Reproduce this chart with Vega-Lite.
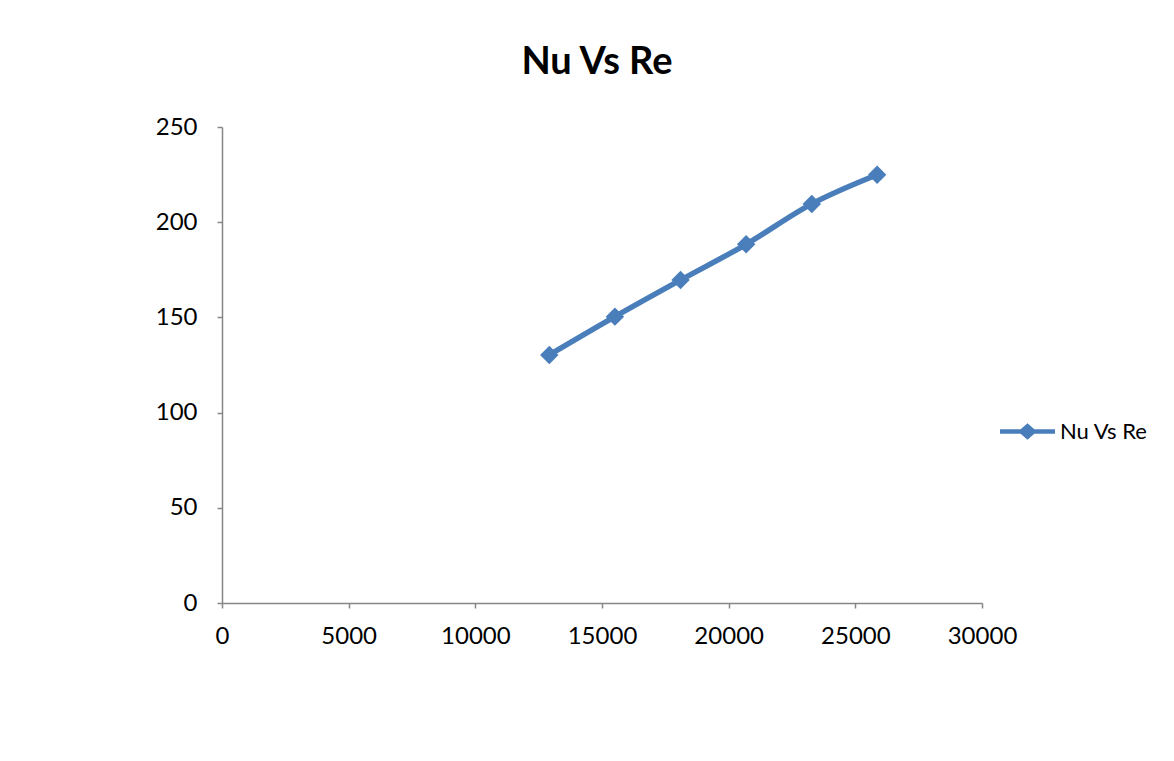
{
  "$schema": "https://vega.github.io/schema/vega-lite/v6.json",
  "autosize": {"type": "none"},
  "width": 760,
  "height": 476,
  "padding": {"left": 222, "top": 127, "right": 192, "bottom": 158},
  "background": "white",
  "title": {
    "text": "Nu Vs Re",
    "font": "Lato",
    "fontSize": 38,
    "fontWeight": "bold",
    "color": "#000000",
    "anchor": "middle",
    "frame": "group",
    "baseline": "alphabetic",
    "offset": 40,
    "dx": -5,
    "dy": 37
  },
  "data": {
    "values": [
      {"Re": 12920, "Nu": 130.3, "series": "Nu Vs Re"},
      {"Re": 15510, "Nu": 150.4, "series": "Nu Vs Re"},
      {"Re": 18100, "Nu": 169.6, "series": "Nu Vs Re"},
      {"Re": 20690, "Nu": 188.4, "series": "Nu Vs Re"},
      {"Re": 23280, "Nu": 209.6, "series": "Nu Vs Re"},
      {"Re": 25860, "Nu": 224.9, "series": "Nu Vs Re"}
    ]
  },
  "encoding": {
    "x": {
      "field": "Re",
      "type": "quantitative",
      "scale": {"domain": [0, 30000], "nice": false, "zero": true},
      "axis": {
        "title": null,
        "values": [0, 5000, 10000, 15000, 20000, 25000, 30000],
        "format": "d",
        "grid": false,
        "tickSize": 5,
        "labelPadding": 16,
        "labelFlush": false
      }
    },
    "y": {
      "field": "Nu",
      "type": "quantitative",
      "scale": {"domain": [0, 250], "nice": false},
      "axis": {
        "title": null,
        "values": [0, 50, 100, 150, 200, 250],
        "grid": false,
        "tickSize": 5,
        "labelPadding": 20,
        "labelFlush": false
      }
    },
    "color": {
      "field": "series",
      "type": "nominal",
      "scale": {"range": ["#4a7ebb"]},
      "legend": {
        "title": null,
        "orient": "none",
        "legendX": 778,
        "legendY": 277,
        "padding": 0,
        "symbolSize": 3025,
        "labelOffset": 5,
        "labelFont": "Lato",
        "labelFontSize": 22,
        "labelColor": "#000000",
        "encode": {
          "symbols": {
            "update": {
              "shape": {"value": "M-1,-0.085 L-0.25,-0.085 L0,-0.3 L0.25,-0.085 L1,-0.085 L1,0.085 L0.25,0.085 L0,0.3 L-0.25,0.085 L-1,0.085 Z"},
              "fill": {"value": "#4a7ebb"},
              "stroke": {"value": "transparent"},
              "strokeWidth": {"value": 0},
              "size": {"value": 3025}
            }
          }
        }
      }
    }
  },
  "layer": [
    {
      "mark": {"type": "line", "strokeWidth": 5.5, "interpolate": "monotone", "strokeCap": "round"}
    },
    {
      "mark": {"type": "point", "shape": "diamond", "filled": true, "size": 340, "opacity": 1}
    }
  ],
  "config": {
    "view": {"stroke": null},
    "axis": {
      "domainColor": "#868686",
      "domainWidth": 1.5,
      "tickColor": "#868686",
      "tickWidth": 1.5,
      "labelFont": "Lato",
      "labelFontSize": 24,
      "labelColor": "#000000"
    }
  }
}
